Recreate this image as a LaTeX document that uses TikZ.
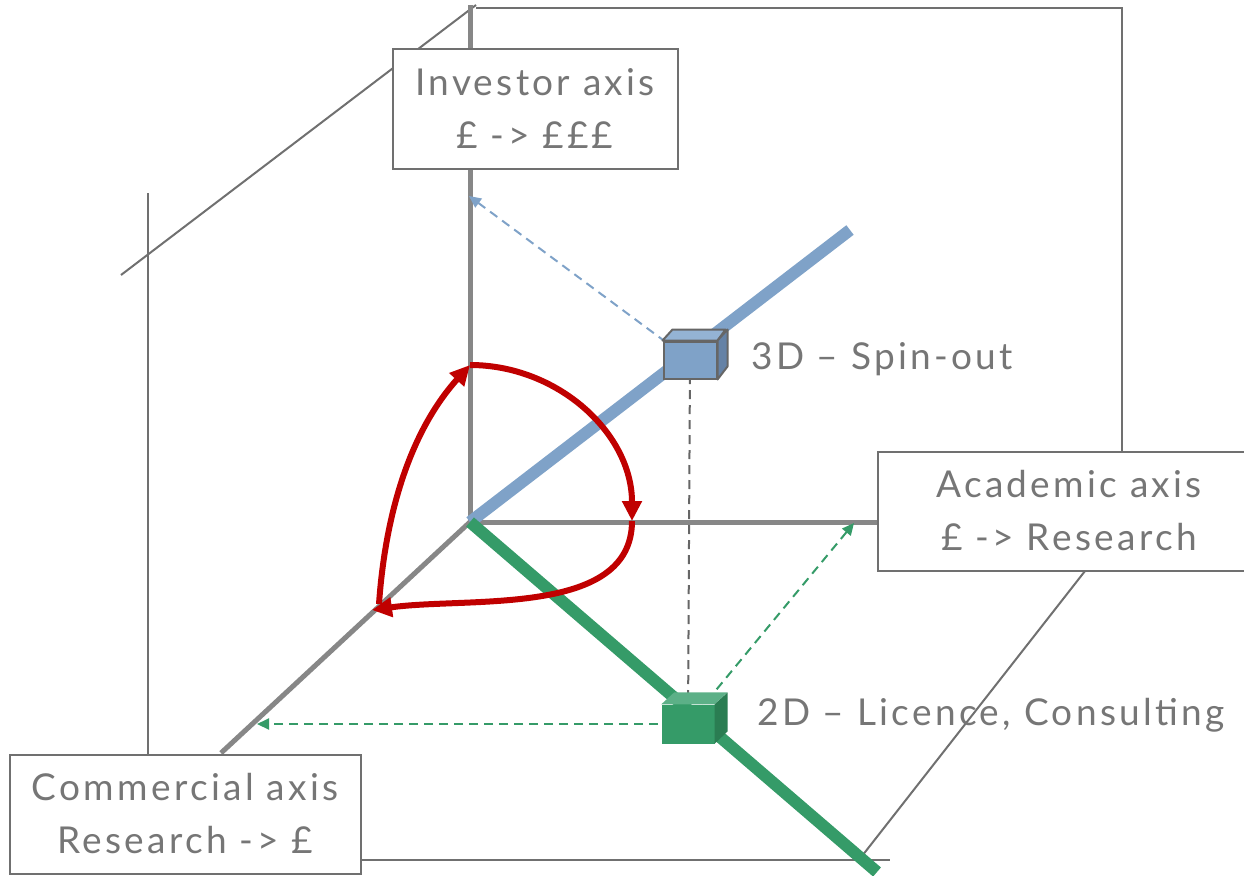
\documentclass[tikz,border=0pt]{standalone}
\usepackage{fontspec}
\setmainfont{Lato}[LetterSpace=9]
\usetikzlibrary{arrows.meta}

\definecolor{boxgray}{HTML}{707070}
\definecolor{axisgray}{HTML}{878787}
\definecolor{textgray}{HTML}{767676}
\definecolor{spinblue}{HTML}{7FA2C8}
\definecolor{spintop}{HTML}{94B3D4}
\definecolor{spinside}{HTML}{6582A6}
\definecolor{licgreen}{HTML}{359B68}
\definecolor{lictop}{HTML}{5CB087}
\definecolor{licside}{HTML}{2A7D52}
\definecolor{cycred}{HTML}{C00000}

\tikzset{
  boxline/.style={draw=boxgray, line width=2pt},
  axisline/.style={draw=axisgray, line width=5pt},
  routeline/.style={line width=12pt},
  cyclearrow/.style={draw=cycred, line width=6pt, -{Triangle[length=20pt,width=19pt]}},
  projline/.style={dash pattern=on 9pt off 6pt, line width=2pt, -{Triangle[length=12pt,width=11pt]}},
  axisbox/.style={draw=boxgray, line width=2pt, fill=white, text=textgray, align=center, inner sep=0pt, font=\fontsize{37}{53}\selectfont},
  routelabel/.style={anchor=west, text=textgray, inner sep=0pt, font=\fontsize{37}{53}\selectfont},
}

\begin{document}
\begin{tikzpicture}[x=1pt, y=-1pt]
\useasboundingbox (0,0) rectangle (1244,875);

% outline of the box
\coordinate (backtop) at (476,5);
\draw[boxline] (backtop) -- (121,275);
\draw[boxline] (476,8) -- (1122,8) -- (1122,452);
\draw[boxline] (148,193) -- (148,754);
\draw[boxline] (360,860) -- (890,860);
\draw[boxline] (1085,571) -- (862,856);

% the three axes
\coordinate (O) at (470,522);
\coordinate (ztop) at (470,5);
\coordinate (xend) at (880,522);
\coordinate (yend) at (221,753);
\draw[axisline] (O) -- (ztop);
\draw[axisline] (O) -- (xend);
\draw[axisline] (O) -- (yend);

% routes
\coordinate (spinpos) at (690,360);
\coordinate (licpos) at (688,724);
\draw[routeline, spinblue] (O) -- (850,230);
\draw[routeline, licgreen] (O) -- (877,872);

% projections
\coordinate (invtip) at (469,196);
\coordinate (acadtip) at (854,523);
\coordinate (commtip) at (257,724);
\draw[projline, spinblue] (spinpos) -- (invtip);
\draw[projline, -, draw=black!60] (spinpos) -- (licpos);
\draw[projline, licgreen] (licpos) -- (acadtip);
\draw[projline, licgreen] (licpos) -- (commtip);

% the cycle
\coordinate (zmark) at (470,365);
\coordinate (xmark) at (632,521);
\coordinate (ymark) at (372,610);
\coordinate (ystart) at (379,604);
\draw[cyclearrow] (zmark) to[out=0, in=90] (xmark);
\draw[cyclearrow] (xmark) to[out=-90, in=8, looseness=0.9] (ymark);
\draw[cyclearrow] (ystart) to[out=86, in=228, looseness=0.9] (zmark);

% cubes
\node[draw=black!60, line width=2pt, fill=spinblue, minimum width=53pt, minimum height=37pt, inner sep=0pt] (spincube) at (spinpos) {};
\filldraw[fill=spintop, draw=black!60, line width=2pt, line join=round] (spincube.north west) -- ++(10,-11) -- ++(53,0) -- (spincube.north east) -- cycle;
\filldraw[fill=spinside, draw=black!60, line width=2pt, line join=round] (spincube.north east) -- ++(10,-11) -- ++(0,37) -- (spincube.south east) -- cycle;

\node[fill=licgreen, minimum width=53pt, minimum height=39pt, inner sep=0pt] (liccube) at (licpos) {};
\fill[lictop] (liccube.north west) -- ++(13,-12) -- ++(53,0) -- (liccube.north east) -- cycle;
\fill[licside] (liccube.north east) -- ++(13,-12) -- ++(0,39) -- (liccube.south east) -- cycle;

\node[routelabel] (spinlbl) at (751,359) {3D – Spin-out};
\node[routelabel] (liclbl) at (757,715) {2D – Licence, Consulting};

% axis labels
\node[axisbox, minimum width=285pt, minimum height=120pt] (inv) at (535,109) {Investor axis\\£ -> £££};
\node[axisbox, minimum width=382pt, minimum height=119pt] (acad) at (1069,511) {Academic axis\\£ -> Research};
\node[axisbox, minimum width=351pt, minimum height=119pt] (comm) at (185,814) {Commercial axis\\Research -> £};
\end{tikzpicture}
\end{document}
